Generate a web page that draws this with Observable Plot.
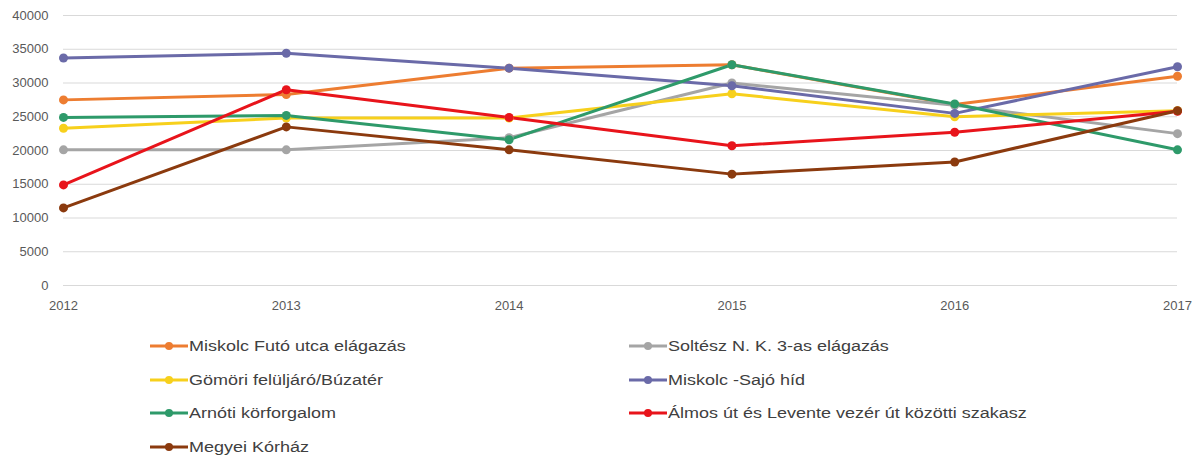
<!DOCTYPE html>
<html>
<head>
<meta charset="utf-8">
<script src="https://cdn.jsdelivr.net/npm/d3@7"></script>
<script src="https://cdn.jsdelivr.net/npm/@observablehq/plot@0.6"></script>
<style>
  html, body { margin: 0; padding: 0; background: #fff; }
  #wrap { position: relative; width: 1200px; height: 461px; }
  #legend { position: absolute; left: 0; top: 0; width: 1200px; height: 461px; pointer-events: none; }
  .item { position: absolute; display: flex; align-items: center; font-family: "Liberation Sans", Arial, sans-serif; font-size: 15.5px; color: #404040; white-space: nowrap; }
  .item svg { display: block; margin-right: 1px; }
  .item span { display: inline-block; transform: scaleX(1.16); transform-origin: left center; }
</style>
</head>
<body>
<div id="wrap"><div id="chart"></div><div id="legend"></div></div>
<script>
const years = [2012, 2013, 2014, 2015, 2016, 2017];
const seriesNames = [
  "Miskolc Futó utca elágazás",
  "Soltész N. K. 3-as elágazás",
  "Gömöri felüljáró/Búzatér",
  "Miskolc -Sajó híd",
  "Arnóti körforgalom",
  "Álmos út és Levente vezér út közötti szakasz",
  "Megyei Kórház"
];
const futo    = [27500, 28300, 32200, 32700, 26800, 31000];
const soltesz = [20100, 20100, 21900, 30000, 26700, 22500];
const gomori  = [23300, 24800, 24800, 28400, 25000, 25900];
const sajo    = [33700, 34400, 32200, 29600, 25500, 32400];
const arnoti  = [24900, 25200, 21600, 32700, 26900, 20100];
const almos   = [14900, 29000, 24900, 20700, 22700, 25800];
const megyei  = [11500, 23500, 20100, 16500, 18300, 25900];
const seriesValues = [futo, soltesz, gomori, sajo, arnoti, almos, megyei];
const colors = ["#ED7D31", "#A5A5A5", "#F7D01C", "#6A6AA8", "#2E9A6A", "#E8141B", "#8B3A0E"];
const yTicks = [0, 5000, 10000, 15000, 20000, 25000, 30000, 35000, 40000];

const rows = [];
seriesNames.forEach((name, i) => {
  seriesValues[i].forEach((v, j) => rows.push({series: name, year: years[j], value: v}));
});

const chart = Plot.plot({
  width: 1200,
  height: 315,
  marginTop: 15,
  marginBottom: 30,
  marginLeft: 63,
  marginRight: 23,
  style: {fontFamily: "'Liberation Sans', Arial, sans-serif", fontSize: "13px", color: "#595959", background: "#fff"},
  x: {type: "linear", domain: [2012, 2017], ticks: years, tickFormat: d => String(d), tickSize: 0, tickPadding: 15, label: null},
  y: {domain: [0, 40000], ticks: yTicks, tickFormat: d => String(d), tickSize: 0, tickPadding: 15, label: null},
  color: {domain: seriesNames, range: colors},
  marks: [
    Plot.ruleY(yTicks, {stroke: "#d9d9d9", strokeWidth: 1, strokeOpacity: 1}),
    ...seriesNames.map((name, i) => Plot.line(rows.filter(r => r.series === name), {x: "year", y: "value", stroke: colors[i], strokeWidth: 3})),
    ...seriesNames.map((name, i) => Plot.dot(rows.filter(r => r.series === name), {x: "year", y: "value", fill: colors[i], r: 4.5}))
  ]
});
document.getElementById("chart").appendChild(chart);

// Legend (HTML, below the SVG)
const legend = document.getElementById("legend");
const legendPos = [
  [150, 346], [629, 346],
  [150, 380], [629, 380],
  [150, 413], [629, 413],
  [150, 447]
];
seriesNames.forEach((name, i) => {
  const d = document.createElement("div");
  d.className = "item";
  d.style.left = legendPos[i][0] + "px";
  d.style.top = (legendPos[i][1] - 10) + "px";
  d.style.height = "20px";
  d.innerHTML = `<svg width="38" height="20"><line x1="0" y1="10" x2="38" y2="10" stroke="${colors[i]}" stroke-width="3"/><circle cx="19" cy="10" r="4" fill="${colors[i]}"/></svg><span></span>`;
  d.querySelector("span").textContent = name;
  legend.appendChild(d);
});
</script>
</body>
</html>
